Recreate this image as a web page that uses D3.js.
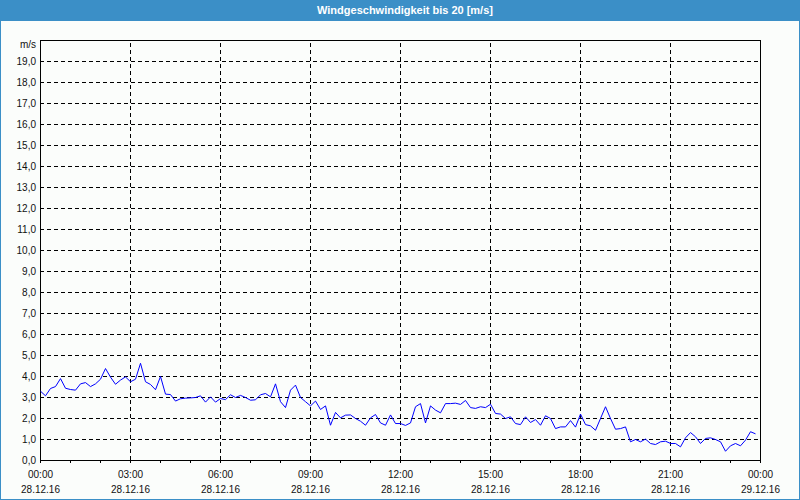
<!DOCTYPE html>
<html>
<head>
<meta charset="utf-8">
<script src="https://cdn.jsdelivr.net/npm/d3@7"></script>
<style>
  html, body { margin: 0; padding: 0; background: #fff; }
  svg { display: block; }
  text { font-family: "Liberation Sans", Arial, sans-serif; }
</style>
</head>
<body>
<svg id="chart" width="800" height="500"></svg>
<script>
// ---- data ----
const chartTitle = "Windgeschwindigkeit bis 20 [m/s]";
const unitLabel = "m/s";
const startTime = "2016-12-28T00:00:00";
const endTime = "2016-12-29T00:00:00";
const sampleMinutes = 10;
const tickLabelTimes = ["00:00","03:00","06:00","09:00","12:00","15:00","18:00","21:00","00:00"];
const tickLabelDates = ["28.12.16","28.12.16","28.12.16","28.12.16","28.12.16","28.12.16","28.12.16","28.12.16","29.12.16"];
const yTickValues = [0,1,2,3,4,5,6,7,8,9,10,11,12,13,14,15,16,17,18,19];
const windSpeed = [
  3.30,3.08,3.43,3.52,3.90,3.44,3.38,3.35,3.65,3.71,3.52,3.65,
  3.87,4.38,3.97,3.63,3.83,3.98,3.75,3.87,4.63,3.75,3.62,3.37,
  4.00,3.16,3.14,2.83,2.94,2.97,2.98,3.00,3.08,2.78,3.03,2.78,
  2.95,2.90,3.13,3.00,3.10,3.00,2.87,2.89,3.13,3.19,3.03,3.65,
  2.80,2.52,3.35,3.59,3.00,2.80,2.60,2.83,2.43,2.60,1.68,2.29,
  2.03,2.16,2.17,2.00,1.87,1.68,2.03,2.19,1.79,1.68,2.17,1.76,
  1.76,1.67,1.79,2.56,2.71,1.79,2.60,2.40,2.27,2.71,2.71,2.73,
  2.67,2.86,2.52,2.48,2.56,2.52,2.68,2.24,2.21,2.00,2.08,1.76,
  1.71,2.08,1.81,1.95,1.68,2.13,2.00,1.52,1.60,1.60,1.90,1.59,
  2.21,1.71,1.65,1.44,2.00,2.56,2.00,1.49,1.52,1.60,0.89,1.00,
  0.89,1.02,0.81,0.76,0.89,0.92,0.81,0.81,0.65,1.08,1.33,1.13,
  0.81,1.05,1.08,1.00,0.89,0.44,0.70,0.81,0.70,0.97,1.37,1.27
];

(function () {
  const W = 800, H = 500;
  const pLeft = 40, pRight = 760, pTop = 40, pBottom = 460;
  const frameBlue = "#3b8fc7";

  const svg = d3.select("#chart");

  svg.append("rect").attr("x", 0).attr("y", 0).attr("width", W).attr("height", H)
    .attr("fill", "#fbfdfb");
  svg.append("rect").attr("x", 0.5).attr("y", 0.5).attr("width", W - 1).attr("height", H - 1)
    .attr("fill", "none").attr("stroke", frameBlue).attr("stroke-width", 1);
  svg.append("rect").attr("x", 0).attr("y", 0).attr("width", W).attr("height", 21)
    .attr("fill", frameBlue);
  svg.append("text").attr("x", W / 2 + 5).attr("y", 14)
    .attr("text-anchor", "middle").attr("fill", "#ffffff")
    .attr("font-size", "11px").attr("font-weight", "bold")
    .text(chartTitle);

  const parse = d3.timeParse("%Y-%m-%dT%H:%M:%S");
  const t0 = parse(startTime), t1 = parse(endTime);
  const x = d3.scaleTime().domain([t0, t1]).range([pLeft, pRight]);
  const y = d3.scaleLinear().domain([0, 20]).range([pBottom, pTop]);

  const points = windSpeed.map((v, i) => ({ t: d3.timeMinute.offset(t0, i * sampleMinutes), v }));

  // horizontal grid
  const gy = svg.append("g").attr("transform", `translate(${pLeft},0)`)
    .call(d3.axisLeft(y).tickValues(yTickValues.filter(v => v > 0)).tickSize(-(pRight - pLeft)).tickFormat(""));
  gy.select(".domain").remove();
  gy.selectAll("line").attr("stroke", "#000").attr("stroke-dasharray", "4,3").attr("shape-rendering", "crispEdges");

  // vertical grid
  const gridTimes = d3.timeHour.every(3).range(d3.timeHour.offset(t0, 1), t1);
  const gx = svg.append("g").attr("transform", `translate(0,${pBottom})`)
    .call(d3.axisBottom(x).tickValues(gridTimes).tickSize(-(pBottom - pTop)).tickFormat(""));
  gx.select(".domain").remove();
  gx.selectAll("line").attr("stroke", "#000").attr("stroke-dasharray", "4,3").attr("shape-rendering", "crispEdges");

  // frame
  svg.append("rect").attr("x", pLeft + 0.5).attr("y", pTop + 0.5)
    .attr("width", pRight - pLeft).attr("height", pBottom - pTop)
    .attr("fill", "none").attr("stroke", "#000").attr("stroke-width", 1)
    .attr("shape-rendering", "crispEdges");

  // hourly ticks
  const hourTimes = d3.timeHour.every(1).range(t0, d3.timeHour.offset(t1, 1));
  const ax = svg.append("g").attr("transform", `translate(0,${pBottom})`)
    .call(d3.axisBottom(x).tickValues(hourTimes).tickSize(3).tickFormat(""));
  ax.select(".domain").attr("stroke", "#000");
  ax.selectAll("line").attr("stroke", "#000").attr("shape-rendering", "crispEdges");

  // x labels
  const labelTimes = d3.timeHour.every(3).range(t0, d3.timeHour.offset(t1, 1));
  labelTimes.forEach((t, i) => {
    svg.append("text").attr("x", x(t) + 0.5).attr("y", 478).attr("text-anchor", "middle")
      .attr("font-size", "10px").attr("fill", "#111").text(tickLabelTimes[i]);
    svg.append("text").attr("x", x(t) + 0.5).attr("y", 493).attr("text-anchor", "middle")
      .attr("font-size", "10px").attr("fill", "#111").text(tickLabelDates[i]);
  });

  // y labels
  const fmt = v => d3.format(".1f")(v).replace(".", ",");
  yTickValues.forEach(v => {
    svg.append("text").attr("x", 36).attr("y", y(v) + 4).attr("text-anchor", "end")
      .attr("font-size", "10px").attr("fill", "#111").text(fmt(v));
  });
  svg.append("text").attr("x", 36).attr("y", 48).attr("text-anchor", "end")
    .attr("font-size", "10px").attr("fill", "#111").text(unitLabel);

  // line
  const line = d3.line().x(d => x(d.t) + 0.5).y(d => y(d.v) + 0.5);
  svg.append("path").datum(points).attr("d", line)
    .attr("fill", "none").attr("stroke", "#0000ff").attr("stroke-width", 1);
})();
</script>
</body>
</html>
